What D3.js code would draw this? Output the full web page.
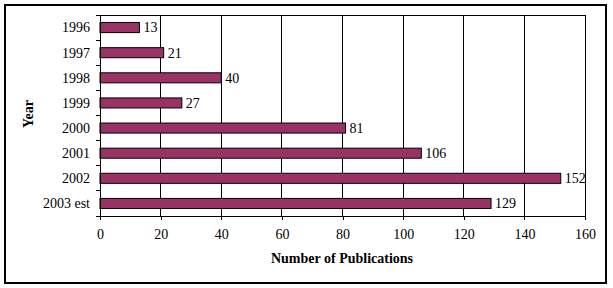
<!DOCTYPE html>
<html>
<head>
<meta charset="utf-8">
<script src="https://cdn.jsdelivr.net/npm/d3@7"></script>
<style>
  body { margin: 0; background: #fff; }
  text { font-family: "Liberation Serif", "Times New Roman", serif; }
</style>
</head>
<body>
<script>
const years = ['1996', '1997', '1998', '1999', '2000', '2001', '2002', '2003 est'];
const publications = [13, 21, 40, 27, 81, 106, 152, 129];
const xTicks = [0, 20, 40, 60, 80, 100, 120, 140, 160];

const svg = d3.select('body').append('svg')
    .attr('width', 613)
    .attr('height', 288);

// outer chart border
svg.append('rect')
    .attr('x', 5)
    .attr('y', 5)
    .attr('width', 601)
    .attr('height', 278)
    .attr('fill', 'white')
    .attr('stroke', 'black')
    .attr('stroke-width', 2);

const plotLeft = 100, plotTop = 15, plotRight = 585, plotBottom = 216;

const x = d3.scaleLinear().domain([0, 160]).range([plotLeft, plotRight]);
const y = d3.scaleBand().domain(years).range([plotTop, plotBottom]).paddingInner(0.6).paddingOuter(0.3);

// gridlines
svg.append('g')
    .selectAll('line')
    .data(xTicks.slice(1))
    .enter()
    .append('line')
    .attr('x1', d => x(d))
    .attr('x2', d => x(d))
    .attr('y1', plotTop)
    .attr('y2', plotBottom)
    .attr('stroke', 'black')
    .attr('stroke-width', 1)
    .attr('shape-rendering', 'crispEdges');

// plot frame
svg.append('path')
    .attr('d', `M${plotLeft},${plotTop}H${plotRight}V${plotBottom}`)
    .attr('fill', 'none')
    .attr('stroke', 'black')
    .attr('shape-rendering', 'crispEdges');

// bars
svg.selectAll('rect.bar')
    .data(years)
    .enter()
    .append('rect')
    .attr('class', 'bar')
    .attr('x', x(0))
    .attr('y', d => y(d))
    .attr('width', (d, i) => x(publications[i]) - x(0))
    .attr('height', y.bandwidth())
    .attr('fill', '#993366')
    .attr('stroke', 'black')
    .attr('stroke-width', 1);

// value labels
svg.selectAll('text.val')
    .data(years)
    .enter()
    .append('text')
    .attr('class', 'val')
    .attr('x', (d, i) => x(publications[i]) + 4)
    .attr('y', d => y(d) + y.bandwidth() / 2)
    .attr('dy', '0.35em')
    .attr('font-size', '14px')
    .text((d, i) => publications[i]);

// x axis
const xAxis = svg.append('g')
    .attr('transform', `translate(0, ${plotBottom})`)
    .call(d3.axisBottom(x).tickValues(xTicks).tickSize(4).tickPadding(9));
xAxis.select('.domain').attr('stroke', 'black').attr('shape-rendering', 'crispEdges');
xAxis.selectAll('line').attr('stroke', 'black').attr('shape-rendering', 'crispEdges');
xAxis.selectAll('text')
    .attr('font-family', '"Liberation Serif", serif')
    .attr('font-size', '14px')
    .attr('fill', 'black');

// y axis: category ticks between rows
const yAxis = svg.append('g');
yAxis.append('line')
    .attr('x1', plotLeft).attr('x2', plotLeft)
    .attr('y1', plotTop).attr('y2', plotBottom + 4)
    .attr('stroke', 'black')
    .attr('shape-rendering', 'crispEdges');
const step = (plotBottom - plotTop) / years.length;
yAxis.selectAll('line.tick')
    .data(d3.range(years.length + 1))
    .enter()
    .append('line')
    .attr('class', 'tick')
    .attr('x1', plotLeft - 4)
    .attr('x2', plotLeft)
    .attr('y1', i => plotTop + i * step)
    .attr('y2', i => plotTop + i * step)
    .attr('stroke', 'black')
    .attr('shape-rendering', 'crispEdges');
yAxis.selectAll('text')
    .data(years)
    .enter()
    .append('text')
    .attr('x', 90)
    .attr('y', d => y(d) + y.bandwidth() / 2)
    .attr('dy', '0.35em')
    .attr('text-anchor', 'end')
    .attr('font-size', '14px')
    .text(d => d);

// axis titles
svg.append('text')
    .attr('x', 342)
    .attr('y', 263)
    .attr('text-anchor', 'middle')
    .attr('font-size', '14px')
    .attr('font-weight', 'bold')
    .text('Number of Publications');

svg.append('text')
    .attr('transform', 'translate(33, 114) rotate(-90)')
    .attr('text-anchor', 'middle')
    .attr('font-size', '14px')
    .attr('font-weight', 'bold')
    .text('Year');
</script>
</body>
</html>
